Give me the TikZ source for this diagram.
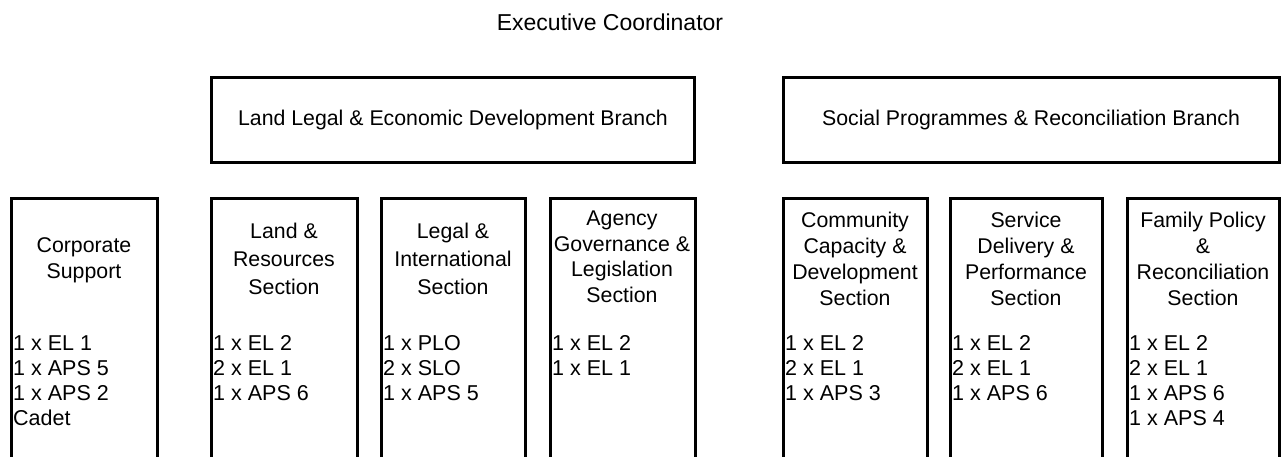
\documentclass[tikz,border=0pt]{standalone}
\usepackage{fontspec}
\setmainfont{Liberation Sans}
\newcommand{\hfnt}{\fontsize{21.3}{26}\selectfont}
\newcommand{\sfnt}{\fontsize{21.5}{25}\selectfont}
\begin{document}
\begin{tikzpicture}[x=1pt,y=-1pt,
  secbox/.style={draw, line width=3pt},
  hd/.style={align=center, inner sep=0, font=\hfnt},
  staff/.style={align=left, anchor=base west, inner sep=0, font=\sfnt}]
\useasboundingbox (0,0) rectangle (1287,456);
\clip (0,0) rectangle (1287,456);
\node[inner sep=0, font=\fontsize{23}{27}\selectfont] (exec) at (610,22) {Executive Coordinator};
% branches
\draw[secbox] (211.5,77.5) rectangle (694.5,162.5);
\node[inner sep=0, font=\hfnt] (llb) at (453,120) {Land Legal \& Economic Development Branch};
\draw[secbox] (783,77.5) rectangle (1279,162.5);
\node[inner sep=0, font=\hfnt] (spb) at (1031,120) {Social Programmes \& Reconciliation Branch};
% section boxes (open at bottom)
\draw[secbox] (11,480) -- (11,198) -- (157,198) -- (157,480);
\draw[secbox] (211,480) -- (211,198) -- (357,198) -- (357,480);
\draw[secbox] (381,480) -- (381,198) -- (525,198) -- (525,480);
\draw[secbox] (550,480) -- (550,198) -- (695,198) -- (695,480);
\draw[secbox] (783,480) -- (783,198) -- (927,198) -- (927,480);
\draw[secbox] (950,480) -- (950,198) -- (1102,198) -- (1102,480);
\draw[secbox] (1127,480) -- (1127,198) -- (1279,198) -- (1279,480);
% headers
\node[hd] (h1) at (84,260) {Corporate\\Support};
\node[hd, font=\fontsize{21.3}{28}\selectfont] (h2) at (284,259) {Land \&\\Resources\\Section};
\node[hd, font=\fontsize{21.3}{28}\selectfont] (h3) at (453,259) {Legal \&\\International\\Section};
\node[hd, font=\fontsize{21.3}{25.5}\selectfont] (h4) at (622,257) {Agency\\Governance \&\\Legislation\\Section};
\node[hd] (h5) at (855,259) {Community\\Capacity \&\\Development\\Section};
\node[hd] (h6) at (1026,259) {Service\\Delivery \&\\Performance\\Section};
\node[hd] (h7) at (1203,259) {Family Policy\\\&\\Reconciliation\\Section};
% staff (anchor = baseline of last line)
\node[staff] (s1) at (13,425) {1 x EL 1\\1 x APS 5\\1 x APS 2\\Cadet};
\node[staff] (s2) at (213,400) {1 x EL 2\\2 x EL 1\\1 x APS 6};
\node[staff] (s3) at (383,400) {1 x PLO\\2 x SLO\\1 x APS 5};
\node[staff] (s4) at (552,375) {1 x EL 2\\1 x EL 1};
\node[staff] (s5) at (785,400) {1 x EL 2\\2 x EL 1\\1 x APS 3};
\node[staff] (s6) at (952,400) {1 x EL 2\\2 x EL 1\\1 x APS 6};
\node[staff] (s7) at (1129,425) {1 x EL 2\\2 x EL 1\\1 x APS 6\\1 x APS 4};
\end{tikzpicture}
\end{document}
